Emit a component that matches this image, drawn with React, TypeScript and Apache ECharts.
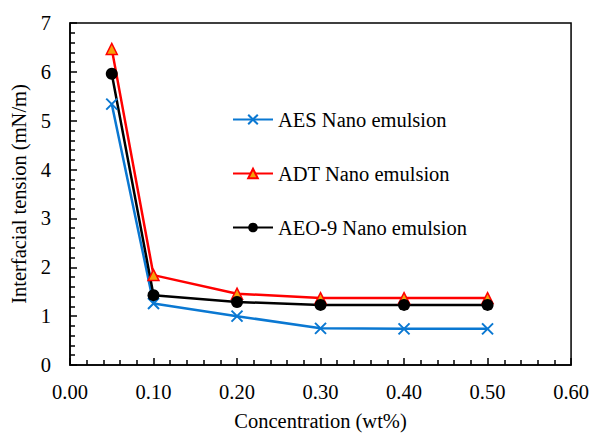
import React, { useEffect, useRef } from "react";
import * as echarts from "echarts";

const concentration = [0.05, 0.1, 0.2, 0.3, 0.4, 0.5];
const aes = [5.34, 1.26, 1.0, 0.75, 0.74, 0.74];
const adt = [6.47, 1.84, 1.46, 1.37, 1.37, 1.37];
const aeo9 = [5.96, 1.43, 1.29, 1.23, 1.23, 1.23];
const seriesNames = ["AES Nano emulsion", "ADT Nano emulsion", "AEO-9 Nano emulsion"];

const FONT = "Liberation Serif";

export default function App() {
  const ref = useRef<HTMLDivElement>(null);
  useEffect(() => {
    if (!ref.current) return;
    const chart = echarts.init(ref.current, null, { renderer: "svg" });
    const pair = (ys: number[]) => concentration.map((x, i) => [x, ys[i]]);
    const txt = { fontFamily: FONT, fontSize: 20.5, color: "#000" };
    chart.setOption({
      animation: false,
      backgroundColor: "#fff",
      textStyle: { fontFamily: FONT },
      grid: {
        left: 70, right: 19, top: 23, bottom: 63,
        show: true, borderColor: "#000", borderWidth: 1.5, backgroundColor: "transparent",
      },
      legend: {
        orient: "vertical",
        left: 227, top: 104,
        itemWidth: 40, itemHeight: 12, itemGap: 33,
        textStyle: txt,
        data: seriesNames,
      },
      xAxis: {
        type: "value", min: 0, max: 0.6, interval: 0.1,
        name: "Concentration (wt%)", nameLocation: "middle", nameGap: 45,
        nameTextStyle: txt,
        axisLine: { show: true, lineStyle: { color: "#000", width: 1.5 } },
        axisTick: { show: true, inside: true, length: 7, lineStyle: { color: "#000", width: 1.5 } },
        minorTick: { show: true, splitNumber: 5, length: 5, lineStyle: { color: "#000", width: 1.5 } },
        splitLine: { show: false },
        axisLabel: { ...txt, margin: 16, formatter: (v: number) => v.toFixed(2) },
      },
      yAxis: {
        type: "value", min: 0, max: 7, interval: 1,
        name: "Interfacial tension (mN/m)", nameLocation: "middle", nameGap: 35,
        nameTextStyle: txt,
        axisLine: { show: true, lineStyle: { color: "#000", width: 1.5 } },
        axisTick: { show: true, inside: true, length: 7, lineStyle: { color: "#000", width: 1.5 } },
        minorTick: { show: true, splitNumber: 5, length: 5, lineStyle: { color: "#000", width: 1.5 } },
        splitLine: { show: false },
        axisLabel: { ...txt, margin: 19 },
      },
      series: [
        {
          name: seriesNames[0], type: "line", data: pair(aes),
          symbol: "path://M0,0L10,10M10,0L0,10", symbolSize: 11,
          lineStyle: { color: "#0a78d2", width: 2.5 },
          itemStyle: { color: "#0a78d2", borderColor: "#0a78d2", borderWidth: 2 },
        },
        {
          name: seriesNames[1], type: "line", data: pair(adt),
          symbol: "triangle", symbolSize: 11,
          lineStyle: { color: "#ff0000", width: 2.5 },
          itemStyle: { color: "#f5a00a", borderColor: "#ff0000", borderWidth: 1.5 },
        },
        {
          name: seriesNames[2], type: "line", data: pair(aeo9),
          symbol: "circle", symbolSize: 12,
          lineStyle: { color: "#000", width: 2.5 },
          itemStyle: { color: "#000", borderColor: "#000", borderWidth: 0 },
        },
      ],
    });
    return () => chart.dispose();
  }, []);
  return <div ref={ref} style={{ width: 592, height: 436, position: "absolute", left: 0, top: 0 }} />;
}
